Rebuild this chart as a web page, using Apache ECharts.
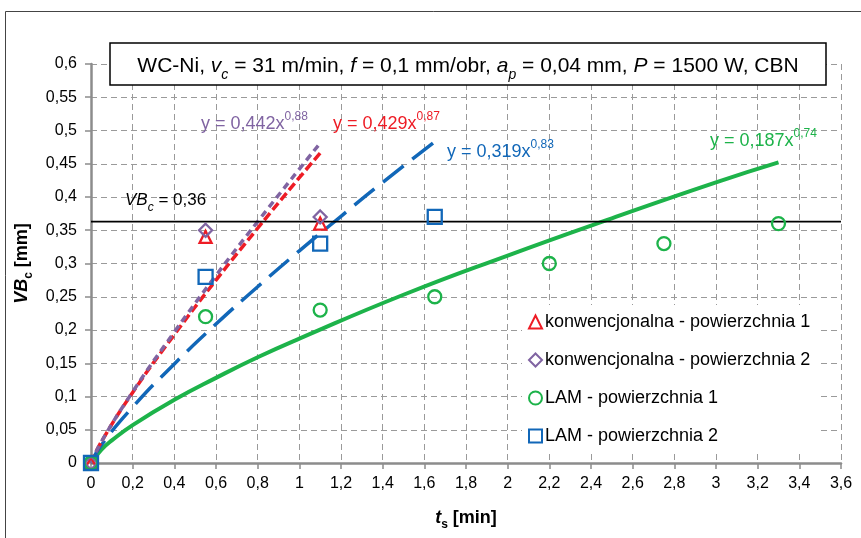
<!DOCTYPE html>
<html><head><meta charset="utf-8">
<script src="https://cdn.jsdelivr.net/npm/echarts@6/dist/echarts.min.js"></script>
<style>html,body{margin:0;padding:0;background:#fff}#c{width:861px;height:538px}</style>
</head><body><div id="c"></div>
<script>
// measured points
const konw1X = [0, 0.55, 1.1];
const konw1Y = [0, 0.34, 0.36];
const konw2X = [0, 0.55, 1.1];
const konw2Y = [0, 0.35, 0.37];
const lam1X = [0, 0.55, 1.1, 1.65, 2.2, 2.75, 3.3];
const lam1Y = [0, 0.22, 0.23, 0.25, 0.30, 0.33, 0.36];
const lam2X = [0, 0.55, 1.1, 1.65];
const lam2Y = [0, 0.28, 0.33, 0.37];
// trend lines
const trendRedX = [0, 0.05, 0.2, 0.4, 0.6, 0.8, 1.0, 1.1];
const trendRedY = [0, 0.032, 0.106, 0.193, 0.275, 0.353, 0.429, 0.466];
const trendPurX = [0, 0.05, 0.2, 0.4, 0.6, 0.8, 1.0, 1.1];
const trendPurY = [0, 0.032, 0.107, 0.197, 0.282, 0.363, 0.442, 0.481];
const trendBluX = [0, 0.05, 0.2, 0.4, 0.6, 0.8, 1.0, 1.2, 1.4, 1.65];
const trendBluY = [0, 0.027, 0.084, 0.149, 0.209, 0.265, 0.319, 0.371, 0.422, 0.483];
const trendGrnX = [0, 0.05, 0.1, 0.2, 0.4, 0.6, 0.8, 1.0, 1.5, 2.0, 2.5, 3.0, 3.3];
const trendGrnY = [0, 0.020, 0.034, 0.057, 0.095, 0.128, 0.159, 0.187, 0.253, 0.312, 0.368, 0.422, 0.452];
const vbLimit = [0.363];
const seriesNames = ['konwencjonalna - powierzchnia 1', 'konwencjonalna - powierzchnia 2', 'LAM - powierzchnia 1', 'LAM - powierzchnia 2'];
const trendLabels = [
  ['0,442', '0,88'], ['0,429', '0,87'], ['0,319', '0,83'], ['0,187', '0,74']
];

const RED = '#ee1c25', PUR = '#8064a2', GRN = '#1db34a', BLU = '#1167b8';
const zip = (xs, ys) => xs.map((x, i) => [x, ys[i]]);
const F = 'Liberation Sans, Arial, sans-serif';

const chart = echarts.init(document.getElementById('c'), null, {renderer: 'canvas'});

function trend(data, color, w, dash) {
  return {type: 'line', data: data, smooth: true, showSymbol: false, silent: true, z: 2,
    lineStyle: {color: color, width: w, type: dash, cap: 'butt'}};
}
function scat(name, data, symbol, size, color) {
  return {type: 'scatter', name: name, data: data, symbol: symbol, symbolSize: size, z: 5,
    itemStyle: {color: 'rgba(255,255,255,0)', borderColor: color, borderWidth: 2.3, opacity: 1}};
}
function eqText(x, y, color, idx) {
  return {type: 'text', left: x, top: y, z: 100, style: {
    text: '{m|y = ' + trendLabels[idx][0] + 'x}{s|' + trendLabels[idx][1] + '}',
    rich: {m: {fontFamily: F, fontSize: 18, fill: color, verticalAlign: 'bottom', lineHeight: 22},
           s: {fontFamily: F, fontSize: 12, fill: color, verticalAlign: 'top', lineHeight: 22, padding: [0,0,10,0]}},
    fill: color}};
}
const nameRich = {
  i: {fontFamily: F, fontSize: 18, fontWeight: 'bold', fontStyle: 'italic', color: '#000', verticalAlign: 'bottom', lineHeight: 22},
  s: {fontFamily: F, fontSize: 12, fontWeight: 'bold', color: '#000', verticalAlign: 'bottom', lineHeight: 22, padding: [0,0,-4,0]},
  b: {fontFamily: F, fontSize: 18, fontWeight: 'bold', color: '#000', verticalAlign: 'bottom', lineHeight: 22}};

const option = {
  animation: false,
  backgroundColor: '#fff',
  grid: {left: 91, right: 20, top: 64, bottom: 75},
  xAxis: {type: 'value', min: 0, max: 3.6, interval: 0.2,
    name: '{i|t}{s|s}{b| [min]}', nameLocation: 'middle', nameGap: 42,
    nameTextStyle: {rich: nameRich},
    axisLine: {lineStyle: {color: '#8c8c8c', width: 2.5}},
    axisTick: {show: true, length: 6, lineStyle: {color: '#8c8c8c', width: 1.5}},
    axisLabel: {fontFamily: F, fontSize: 16, color: '#000', margin: 13,
      formatter: v => String(Math.round(v * 10) / 10).replace('.', ',')},
    splitLine: {show: true, lineStyle: {color: '#9a9a9a', width: 1, type: [6, 4]}}
  },
  yAxis: {type: 'value', min: 0, max: 0.6, interval: 0.05,
    name: '{i|VB}{s|c}{b| [mm]}', nameLocation: 'middle', nameGap: 46, nameRotate: 90,
    nameTextStyle: {rich: nameRich},
    axisLine: {show: true, lineStyle: {color: '#8c8c8c', width: 2.5}},
    axisTick: {show: true, length: 6, lineStyle: {color: '#8c8c8c', width: 1.5}},
    axisLabel: {fontFamily: F, fontSize: 16, color: '#000', margin: 14,
      formatter: v => String(Math.round(v * 100) / 100).replace('.', ',')},
    splitLine: {show: true, lineStyle: {color: '#9a9a9a', width: 1, type: [6, 4]}}
  },
  legend: {orient: 'vertical', left: 522, top: 305, itemGap: 20, itemWidth: 13, itemHeight: 13,
    backgroundColor: '#fff', padding: [8, 10, 8, 6],
    textStyle: {fontFamily: F, fontSize: 18, color: '#000', padding: [0, 0, 0, -2]},
    data: seriesNames},
  series: [
    trend(zip(trendGrnX, trendGrnY), GRN, 4, 'solid'),
    trend(zip(trendBluX, trendBluY), BLU, 3.5, [26, 11]),
    trend(zip(trendRedX, trendRedY), RED, 3.5, [9, 4]),
    trend(zip(trendPurX, trendPurY), PUR, 3.5, [7, 5]),
    {type: 'line', data: [[0, vbLimit[0]], [3.6, vbLimit[0]]], showSymbol: false, silent: true, z: 3,
      lineStyle: {color: '#000', width: 1.8}},
    scat(seriesNames[0], zip(konw1X, konw1Y), 'triangle', 12, RED),
    scat(seriesNames[1], zip(konw2X, konw2Y), 'diamond', 13, PUR),
    scat(seriesNames[2], zip(lam1X, lam1Y), 'circle', 13, GRN),
    scat(seriesNames[3], zip(lam2X, lam2Y), 'rect', 14, BLU)
  ],
  graphic: [
    {type: 'rect', shape: {x: 5.5, y: 11.5, width: 900, height: 600}, silent: true, z: -10,
      style: {fill: 'none', stroke: '#444', lineWidth: 1}},
    {type: 'rect', shape: {x: 110, y: 43, width: 716, height: 42}, z: 90,
      style: {fill: '#fff', stroke: '#000', lineWidth: 1.5}},
    {type: 'text', x: 468, y: 64, z: 95, style: {
      text: '{n|WC-Ni, }{i|v}{s|c}{n| = 31 m/min, }{i|f}{n| = 0,1 mm/obr, }{i|a}{s|p}{n| = 0,04 mm, }{i|P}{n| = 1500 W, CBN}',
      align: 'center', verticalAlign: 'middle',
      rich: {n: {fontFamily: F, fontSize: 21, fill: '#000', verticalAlign: 'bottom', lineHeight: 26},
             i: {fontFamily: F, fontSize: 21, fontStyle: 'italic', fill: '#000', verticalAlign: 'bottom', lineHeight: 26},
             s: {fontFamily: F, fontSize: 14, fontStyle: 'italic', fill: '#000', verticalAlign: 'bottom', lineHeight: 26, padding: [0,0,-5,0]}}}},
    {type: 'text', left: 125, top: 192, z: 95, style: {
      text: '{i|VB}{s|c}{n| = 0,36}',
      rich: {n: {fontFamily: F, fontSize: 17, fill: '#000', verticalAlign: 'bottom', lineHeight: 22},
             i: {fontFamily: F, fontSize: 17, fontStyle: 'italic', fill: '#000', verticalAlign: 'bottom', lineHeight: 22},
             s: {fontFamily: F, fontSize: 12, fontStyle: 'italic', fill: '#000', verticalAlign: 'bottom', lineHeight: 22, padding: [0,0,-5,0]}}}},
    eqText(201, 111, PUR, 0),
    eqText(333, 111, RED, 1),
    eqText(447, 139, BLU, 2),
    eqText(710, 128, GRN, 3)
  ]
};
chart.setOption(option);
</script></body></html>
